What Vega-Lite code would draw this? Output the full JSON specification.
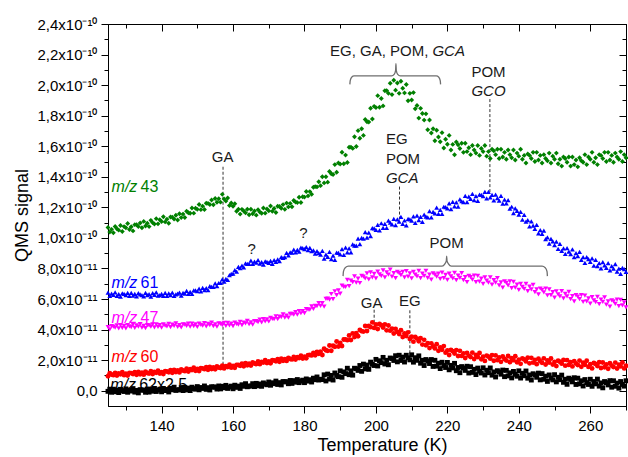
{
  "$schema": "https://vega.github.io/schema/vega-lite/v6.json",
  "width": 518,
  "height": 382,
  "autosize": {"type": "none"},
  "padding": {"left": 108, "top": 24, "right": 2, "bottom": 51},
  "background": "white",
  "config": {
    "view": {"stroke": "black", "strokeWidth": 1},
    "font": "Liberation Sans",
    "axis": {
      "labelFont": "Liberation Sans",
      "titleFont": "Liberation Sans",
      "labelColor": "black",
      "titleColor": "black",
      "domainColor": "black",
      "tickColor": "black",
      "tickWidth": 1,
      "domainWidth": 1,
      "grid": false,
      "labelFontSize": 15,
      "titleFontSize": 18,
      "titleFontWeight": "normal",
      "labelOverlap": false,
      "labelBound": false,
      "labelFlush": false
    }
  },
  "datasets": {
    "qms": [
      {"T":125,"m43":10.68,"m61":6.42,"m47":4.17,"m60":0.95,"m62":-0.04},
      {"T":125.5,"m43":10.38,"m61":6.2,"m47":4.02,"m60":1.14,"m62":0.1},
      {"T":126,"m43":10.56,"m61":6.35,"m47":4.23,"m60":1.06,"m62":-0.1},
      {"T":126.5,"m43":10.34,"m61":6.28,"m47":4.2,"m60":1.02,"m62":0.1},
      {"T":127,"m43":10.75,"m61":6.44,"m47":4.13,"m60":1.17,"m62":-0.07},
      {"T":127.5,"m43":10.6,"m61":6.21,"m47":4.28,"m60":0.99,"m62":0.04},
      {"T":128,"m43":10.51,"m61":6.32,"m47":4.08,"m60":1.13,"m62":-0.12},
      {"T":128.5,"m43":10.81,"m61":6.16,"m47":4.29,"m60":1.07,"m62":0.09},
      {"T":129,"m43":10.42,"m61":6.37,"m47":4.12,"m60":1.21,"m62":0},
      {"T":129.5,"m43":10.74,"m61":6.34,"m47":4.24,"m60":1.02,"m62":-0.05},
      {"T":130,"m43":10.67,"m61":6.26,"m47":4.08,"m60":1.12,"m62":0.12},
      {"T":130.5,"m43":10.94,"m61":6.4,"m47":4.29,"m60":0.99,"m62":-0.1},
      {"T":131,"m43":10.55,"m61":6.2,"m47":4.21,"m60":1.17,"m62":0.05},
      {"T":131.5,"m43":10.73,"m61":6.4,"m47":4.16,"m60":1.15,"m62":-0.02},
      {"T":132,"m43":10.46,"m61":6.23,"m47":4.33,"m60":1.09,"m62":0.14},
      {"T":132.5,"m43":10.87,"m61":6.34,"m47":4.11,"m60":1.22,"m62":-0.09},
      {"T":133,"m43":10.86,"m61":6.18,"m47":4.27,"m60":1.04,"m62":0.02},
      {"T":133.5,"m43":10.74,"m61":6.39,"m47":4.2,"m60":1.23,"m62":-0.14},
      {"T":134,"m43":10.98,"m61":6.3,"m47":4.36,"m60":1.08,"m62":0.07},
      {"T":134.5,"m43":10.67,"m61":6.25,"m47":4.13,"m60":1.18,"m62":0.04},
      {"T":135,"m43":11.08,"m61":6.18,"m47":4.25,"m60":1.05,"m62":0.04},
      {"T":135.5,"m43":10.78,"m61":6.4,"m47":4.09,"m60":1.24,"m62":-0.1},
      {"T":136,"m43":10.96,"m61":6.25,"m47":4.3,"m60":1.16,"m62":0.11},
      {"T":136.5,"m43":10.74,"m61":6.32,"m47":4.27,"m60":1.12,"m62":-0.09},
      {"T":137,"m43":11.15,"m61":6.16,"m47":4.2,"m60":1.27,"m62":0.09},
      {"T":137.5,"m43":11.0,"m61":6.39,"m47":4.34,"m60":1.09,"m62":-0.03},
      {"T":138,"m43":10.91,"m61":6.28,"m47":4.14,"m60":1.23,"m62":0.15},
      {"T":138.5,"m43":11.26,"m61":6.44,"m47":4.34,"m60":1.17,"m62":-0.05},
      {"T":139,"m43":10.92,"m61":6.23,"m47":4.18,"m60":1.31,"m62":0.04},
      {"T":139.5,"m43":11.19,"m61":6.26,"m47":4.29,"m60":1.12,"m62":0.1},
      {"T":140,"m43":11.07,"m61":6.34,"m47":4.13,"m60":1.22,"m62":-0.07},
      {"T":140.5,"m43":11.39,"m61":6.2,"m47":4.34,"m60":1.09,"m62":0.15},
      {"T":141,"m43":11.05,"m61":6.4,"m47":4.26,"m60":1.28,"m62":0.01},
      {"T":141.5,"m43":11.23,"m61":6.2,"m47":4.21,"m60":1.26,"m62":0.08},
      {"T":142,"m43":10.96,"m61":6.37,"m47":4.38,"m60":1.21,"m62":-0.08},
      {"T":142.5,"m43":11.37,"m61":6.26,"m47":4.16,"m60":1.34,"m62":0.15},
      {"T":143,"m43":11.36,"m61":6.42,"m47":4.32,"m60":1.17,"m62":0.06},
      {"T":143.5,"m43":11.24,"m61":6.21,"m47":4.25,"m60":1.36,"m62":0.23},
      {"T":144,"m43":11.48,"m61":6.3,"m47":4.41,"m60":1.22,"m62":0.02},
      {"T":144.5,"m43":11.17,"m61":6.35,"m47":4.18,"m60":1.32,"m62":0.06},
      {"T":145,"m43":11.58,"m61":6.42,"m47":4.3,"m60":1.2,"m62":0.06},
      {"T":145.5,"m43":11.33,"m61":6.23,"m47":4.14,"m60":1.39,"m62":0.21},
      {"T":146,"m43":11.56,"m61":6.4,"m47":4.35,"m60":1.32,"m62":0.01},
      {"T":146.5,"m43":11.34,"m61":6.36,"m47":4.32,"m60":1.28,"m62":0.22},
      {"T":147,"m43":11.75,"m61":6.54,"m47":4.25,"m60":1.44,"m62":0.05},
      {"T":147.5,"m43":11.65,"m61":6.34,"m47":4.39,"m60":1.26,"m62":0.17},
      {"T":148,"m43":11.61,"m61":6.47,"m47":4.19,"m60":1.41,"m62":0.01},
      {"T":148.5,"m43":11.96,"m61":6.34,"m47":4.39,"m60":1.35,"m62":0.23},
      {"T":149,"m43":11.62,"m61":6.57,"m47":4.23,"m60":1.5,"m62":0.14},
      {"T":149.5,"m43":11.94,"m61":6.57,"m47":4.34,"m60":1.31,"m62":0.1},
      {"T":150,"m43":11.87,"m61":6.51,"m47":4.18,"m60":1.42,"m62":0.27},
      {"T":150.5,"m43":12.19,"m61":6.68,"m47":4.39,"m60":1.29,"m62":0.06},
      {"T":151,"m43":11.85,"m61":6.5,"m47":4.31,"m60":1.48,"m62":0.21},
      {"T":151.5,"m43":12.08,"m61":6.73,"m47":4.26,"m60":1.46,"m62":0.15},
      {"T":152,"m43":11.86,"m61":6.58,"m47":4.43,"m60":1.41,"m62":0.31},
      {"T":152.5,"m43":12.27,"m61":6.72,"m47":4.21,"m60":1.54,"m62":0.09},
      {"T":153,"m43":12.26,"m61":6.58,"m47":4.37,"m60":1.37,"m62":0.2},
      {"T":153.5,"m43":12.19,"m61":6.84,"m47":4.3,"m60":1.56,"m62":0.05},
      {"T":154,"m43":12.48,"m61":6.8,"m47":4.46,"m60":1.42,"m62":0.26},
      {"T":154.5,"m43":12.17,"m61":6.8,"m47":4.23,"m60":1.52,"m62":0.24},
      {"T":155,"m43":12.58,"m61":7.02,"m47":4.35,"m60":1.4,"m62":0.24},
      {"T":155.5,"m43":12.33,"m61":6.85,"m47":4.19,"m60":1.59,"m62":0.11},
      {"T":156,"m43":12.56,"m61":7.05,"m47":4.4,"m60":1.52,"m62":0.31},
      {"T":156.5,"m43":12.34,"m61":7.06,"m47":4.37,"m60":1.48,"m62":0.12},
      {"T":157,"m43":12.85,"m61":7.29,"m47":4.3,"m60":1.64,"m62":0.29},
      {"T":157.5,"m43":12.55,"m61":7.14,"m47":4.44,"m60":1.46,"m62":0.19},
      {"T":158,"m43":12.41,"m61":7.32,"m47":4.24,"m60":1.61,"m62":0.35},
      {"T":158.5,"m43":12.61,"m61":7.26,"m47":4.44,"m60":1.55,"m62":0.15},
      {"T":159,"m43":12.12,"m61":7.57,"m47":4.28,"m60":1.7,"m62":0.24},
      {"T":159.5,"m43":12.29,"m61":7.64,"m47":4.39,"m60":1.51,"m62":0.3},
      {"T":160,"m43":12.07,"m61":7.66,"m47":4.23,"m60":1.62,"m62":0.13},
      {"T":160.5,"m43":12.24,"m61":7.9,"m47":4.45,"m60":1.5,"m62":0.36},
      {"T":161,"m43":11.75,"m61":7.8,"m47":4.37,"m60":1.69,"m62":0.22},
      {"T":161.5,"m43":11.88,"m61":8.1,"m47":4.33,"m60":1.68,"m62":0.3},
      {"T":162,"m43":11.56,"m61":8.03,"m47":4.51,"m60":1.63,"m62":0.15},
      {"T":162.5,"m43":11.87,"m61":8.19,"m47":4.3,"m60":1.77,"m62":0.39},
      {"T":163,"m43":11.76,"m61":8.08,"m47":4.46,"m60":1.6,"m62":0.29},
      {"T":163.5,"m43":11.64,"m61":8.34,"m47":4.4,"m60":1.8,"m62":0.46},
      {"T":164,"m43":11.88,"m61":8.3,"m47":4.57,"m60":1.66,"m62":0.26},
      {"T":164.5,"m43":11.52,"m61":8.3,"m47":4.35,"m60":1.77,"m62":0.3},
      {"T":165,"m43":11.88,"m61":8.52,"m47":4.47,"m60":1.65,"m62":0.31},
      {"T":165.5,"m43":11.58,"m61":8.3,"m47":4.33,"m60":1.85,"m62":0.46},
      {"T":166,"m43":11.76,"m61":8.45,"m47":4.56,"m60":1.78,"m62":0.27},
      {"T":166.5,"m43":11.49,"m61":8.38,"m47":4.55,"m60":1.75,"m62":0.48},
      {"T":167,"m43":11.85,"m61":8.54,"m47":4.49,"m60":1.91,"m62":0.32},
      {"T":167.5,"m43":11.7,"m61":8.31,"m47":4.65,"m60":1.74,"m62":0.44},
      {"T":168,"m43":11.61,"m61":8.42,"m47":4.47,"m60":1.89,"m62":0.29},
      {"T":168.5,"m43":11.96,"m61":8.26,"m47":4.69,"m60":1.84,"m62":0.51},
      {"T":169,"m43":11.62,"m61":8.47,"m47":4.54,"m60":1.99,"m62":0.43},
      {"T":169.5,"m43":11.89,"m61":8.44,"m47":4.67,"m60":1.81,"m62":0.39},
      {"T":170,"m43":11.77,"m61":8.36,"m47":4.53,"m60":1.92,"m62":0.57},
      {"T":170.5,"m43":12.09,"m61":8.5,"m47":4.77,"m60":1.8,"m62":0.36},
      {"T":171,"m43":11.75,"m61":8.3,"m47":4.7,"m60":1.99,"m62":0.52},
      {"T":171.5,"m43":11.93,"m61":8.55,"m47":4.68,"m60":1.98,"m62":0.46},
      {"T":172,"m43":11.66,"m61":8.43,"m47":4.87,"m60":1.93,"m62":0.63},
      {"T":172.5,"m43":12.07,"m61":8.59,"m47":4.68,"m60":2.07,"m62":0.41},
      {"T":173,"m43":12.06,"m61":8.48,"m47":4.85,"m60":1.9,"m62":0.53},
      {"T":173.5,"m43":11.94,"m61":8.74,"m47":4.81,"m60":2.1,"m62":0.38},
      {"T":174,"m43":12.18,"m61":8.7,"m47":4.99,"m60":1.96,"m62":0.6},
      {"T":174.5,"m43":11.87,"m61":8.75,"m47":4.79,"m60":2.07,"m62":0.58},
      {"T":175,"m43":12.28,"m61":9.02,"m47":4.92,"m60":1.95,"m62":0.59},
      {"T":175.5,"m43":12.03,"m61":8.85,"m47":4.79,"m60":2.15,"m62":0.46},
      {"T":176,"m43":12.26,"m61":9.05,"m47":5.03,"m60":2.08,"m62":0.67},
      {"T":176.5,"m43":12.04,"m61":9.03,"m47":5.03,"m60":2.05,"m62":0.48},
      {"T":177,"m43":12.45,"m61":9.24,"m47":4.98,"m60":2.21,"m62":0.66},
      {"T":177.5,"m43":12.35,"m61":9.06,"m47":5.15,"m60":2.04,"m62":0.56},
      {"T":178,"m43":12.31,"m61":9.22,"m47":4.98,"m60":2.19,"m62":0.73},
      {"T":178.5,"m43":12.66,"m61":9.11,"m47":5.21,"m60":2.14,"m62":0.53},
      {"T":179,"m43":12.32,"m61":9.37,"m47":5.07,"m60":2.29,"m62":0.63},
      {"T":179.5,"m43":12.69,"m61":9.34,"m47":5.21,"m60":2.11,"m62":0.69},
      {"T":180,"m43":12.67,"m61":9.26,"m47":5.08,"m60":2.22,"m62":0.53},
      {"T":180.5,"m43":13.04,"m61":9.4,"m47":5.34,"m60":2.12,"m62":0.77},
      {"T":181,"m43":12.75,"m61":9.2,"m47":5.3,"m60":2.33,"m62":0.63},
      {"T":181.5,"m43":13.03,"m61":9.35,"m47":5.3,"m60":2.34,"m62":0.72},
      {"T":182,"m43":12.86,"m61":9.13,"m47":5.52,"m60":2.31,"m62":0.57},
      {"T":182.5,"m43":13.32,"m61":9.19,"m47":5.35,"m60":2.47,"m62":0.82},
      {"T":183,"m43":13.36,"m61":8.98,"m47":5.55,"m60":2.32,"m62":0.72},
      {"T":183.5,"m43":13.34,"m61":9.14,"m47":5.53,"m60":2.54,"m62":0.9},
      {"T":184,"m43":13.68,"m61":9.0,"m47":5.74,"m60":2.42,"m62":0.7},
      {"T":184.5,"m43":13.42,"m61":8.9,"m47":5.56,"m60":2.55,"m62":0.75},
      {"T":185,"m43":14.0,"m61":9.15,"m47":5.74,"m60":2.34,"m62":0.73},
      {"T":185.5,"m43":13.6,"m61":8.64,"m47":5.5,"m60":2.75,"m62":1.04},
      {"T":186,"m43":14.0,"m61":8.91,"m47":6.01,"m60":2.65,"m62":0.64},
      {"T":186.5,"m43":13.65,"m61":8.76,"m47":6.02,"m60":2.61,"m62":1.09},
      {"T":187,"m43":14.35,"m61":9.08,"m47":5.96,"m60":2.96,"m62":0.76},
      {"T":187.5,"m43":14.2,"m61":8.62,"m47":6.33,"m60":2.62,"m62":1.0},
      {"T":188,"m43":14.15,"m61":8.84,"m47":5.99,"m60":2.94,"m62":0.7},
      {"T":188.5,"m43":14.8,"m61":8.57,"m47":6.51,"m60":2.88,"m62":1.16},
      {"T":189,"m43":14.3,"m61":9.04,"m47":6.26,"m60":3.22,"m62":1.0},
      {"T":189.5,"m43":14.9,"m61":9.02,"m47":6.57,"m60":2.89,"m62":0.92},
      {"T":190,"m43":14.83,"m61":8.93,"m47":6.35,"m60":3.13,"m62":1.3},
      {"T":190.5,"m43":15.61,"m61":9.26,"m47":6.88,"m60":2.93,"m62":0.88},
      {"T":191,"m43":14.85,"m61":8.89,"m47":6.8,"m60":3.35,"m62":1.23},
      {"T":191.5,"m43":15.42,"m61":9.36,"m47":6.79,"m60":3.36,"m62":1.12},
      {"T":192,"m43":14.94,"m61":9.06,"m47":7.25,"m60":3.31,"m62":1.47},
      {"T":192.5,"m43":15.93,"m61":9.32,"m47":6.84,"m60":3.61,"m62":1.05},
      {"T":193,"m43":15.94,"m61":9.05,"m47":7.21,"m60":3.32,"m62":1.3},
      {"T":193.5,"m43":15.86,"m61":9.58,"m47":7.11,"m60":3.75,"m62":1.02},
      {"T":194,"m43":16.62,"m61":9.5,"m47":7.48,"m60":3.51,"m62":1.47},
      {"T":194.5,"m43":15.98,"m61":9.49,"m47":7.07,"m60":3.76,"m62":1.44},
      {"T":195,"m43":17.02,"m61":9.95,"m47":7.34,"m60":3.56,"m62":1.33},
      {"T":195.5,"m43":16.52,"m61":9.59,"m47":7.05,"m60":3.98,"m62":1.65},
      {"T":196,"m43":17.14,"m61":10.01,"m47":7.51,"m60":3.9,"m62":1.27},
      {"T":196.5,"m43":16.71,"m61":9.96,"m47":7.47,"m60":3.87,"m62":1.74},
      {"T":197,"m43":17.75,"m61":10.38,"m47":7.36,"m60":4.24,"m62":1.43},
      {"T":197.5,"m43":17.6,"m61":10.02,"m47":7.68,"m60":3.91,"m62":1.68},
      {"T":198,"m43":17.59,"m61":10.34,"m47":7.29,"m60":4.24,"m62":1.4},
      {"T":198.5,"m43":18.49,"m61":10.12,"m47":7.74,"m60":4.16,"m62":1.87},
      {"T":199,"m43":17.78,"m61":10.64,"m47":7.41,"m60":4.47,"m62":1.73},
      {"T":199.5,"m43":18.61,"m61":10.62,"m47":7.65,"m60":4.11,"m62":1.65},
      {"T":200,"m43":18.53,"m61":10.53,"m47":7.35,"m60":4.33,"m62":2.05},
      {"T":200.5,"m43":19.31,"m61":10.86,"m47":7.79,"m60":4.04,"m62":1.62},
      {"T":201,"m43":18.55,"m61":10.49,"m47":7.62,"m60":4.37,"m62":1.96},
      {"T":201.5,"m43":19.12,"m61":10.96,"m47":7.51,"m60":4.29,"m62":1.84},
      {"T":202,"m43":18.64,"m61":10.66,"m47":7.87,"m60":4.14,"m62":2.18},
      {"T":202.5,"m43":19.63,"m61":10.92,"m47":7.41,"m60":4.34,"m62":1.75},
      {"T":203,"m43":19.64,"m61":10.65,"m47":7.75,"m60":3.95,"m62":1.99},
      {"T":203.5,"m43":19.46,"m61":11.13,"m47":7.6,"m60":4.27,"m62":1.7},
      {"T":204,"m43":20.12,"m61":11.0,"m47":7.92,"m60":3.93,"m62":2.14},
      {"T":204.5,"m43":19.38,"m61":10.89,"m47":7.47,"m60":4.06,"m62":2.1},
      {"T":205,"m43":20.32,"m61":11.25,"m47":7.69,"m60":3.74,"m62":1.98},
      {"T":205.5,"m43":19.67,"m61":10.84,"m47":7.37,"m60":4.05,"m62":2.29},
      {"T":206,"m43":20.14,"m61":11.21,"m47":7.78,"m60":3.85,"m62":1.89},
      {"T":206.5,"m43":19.46,"m61":11.06,"m47":7.7,"m60":3.71,"m62":2.32},
      {"T":207,"m43":20.25,"m61":11.38,"m47":7.56,"m60":3.96,"m62":1.98},
      {"T":207.5,"m43":19.8,"m61":10.92,"m47":7.77,"m60":3.52,"m62":2.2},
      {"T":208,"m43":19.49,"m61":11.14,"m47":7.42,"m60":3.74,"m62":1.88},
      {"T":208.5,"m43":20.04,"m61":10.82,"m47":7.83,"m60":3.58,"m62":2.32},
      {"T":209,"m43":18.98,"m61":11.24,"m47":7.47,"m60":3.82,"m62":2.15},
      {"T":209.5,"m43":19.46,"m61":11.22,"m47":7.68,"m60":3.39,"m62":2.02},
      {"T":210,"m43":19.03,"m61":11.13,"m47":7.35,"m60":3.53,"m62":2.35},
      {"T":210.5,"m43":19.51,"m61":11.41,"m47":7.78,"m60":3.21,"m62":1.87},
      {"T":211,"m43":18.45,"m61":10.99,"m47":7.59,"m60":3.52,"m62":2.16},
      {"T":211.5,"m43":18.67,"m61":11.46,"m47":7.48,"m60":3.41,"m62":1.99},
      {"T":212,"m43":17.84,"m61":11.16,"m47":7.84,"m60":3.24,"m62":2.28},
      {"T":212.5,"m43":18.48,"m61":11.37,"m47":7.37,"m60":3.43,"m62":1.8},
      {"T":213,"m43":18.14,"m61":11.05,"m47":7.67,"m60":3.02,"m62":1.99},
      {"T":213.5,"m43":17.71,"m61":11.53,"m47":7.52,"m60":3.33,"m62":1.65},
      {"T":214,"m43":18.12,"m61":11.4,"m47":7.84,"m60":2.98,"m62":2.04},
      {"T":214.5,"m43":17.08,"m61":11.34,"m47":7.38,"m60":3.11,"m62":1.95},
      {"T":215,"m43":17.72,"m61":11.75,"m47":7.59,"m60":2.79,"m62":1.78},
      {"T":215.5,"m43":16.87,"m61":11.34,"m47":7.27,"m60":3.1,"m62":2.04},
      {"T":216,"m43":17.14,"m61":11.71,"m47":7.68,"m60":2.9,"m62":1.59},
      {"T":216.5,"m43":16.36,"m61":11.61,"m47":7.6,"m60":2.77,"m62":1.99},
      {"T":217,"m43":17.05,"m61":11.98,"m47":7.46,"m60":3.04,"m62":1.61},
      {"T":217.5,"m43":16.6,"m61":11.57,"m47":7.67,"m60":2.61,"m62":1.8},
      {"T":218,"m43":16.29,"m61":11.84,"m47":7.32,"m60":2.84,"m62":1.45},
      {"T":218.5,"m43":16.89,"m61":11.57,"m47":7.73,"m60":2.68,"m62":1.86},
      {"T":219,"m43":15.88,"m61":12.04,"m47":7.37,"m60":2.92,"m62":1.65},
      {"T":219.5,"m43":16.46,"m61":12.02,"m47":7.58,"m60":2.49,"m62":1.52},
      {"T":220,"m43":16.13,"m61":11.93,"m47":7.25,"m60":2.63,"m62":1.85},
      {"T":220.5,"m43":16.71,"m61":12.26,"m47":7.67,"m60":2.34,"m62":1.37},
      {"T":221,"m43":15.75,"m61":11.89,"m47":7.48,"m60":2.67,"m62":1.66},
      {"T":221.5,"m43":16.12,"m61":12.36,"m47":7.36,"m60":2.59,"m62":1.49},
      {"T":222,"m43":15.44,"m61":12.06,"m47":7.71,"m60":2.44,"m62":1.79},
      {"T":222.5,"m43":16.28,"m61":12.32,"m47":7.24,"m60":2.66,"m62":1.31},
      {"T":223,"m43":16.1,"m61":12.05,"m47":7.53,"m60":2.27,"m62":1.52},
      {"T":223.5,"m43":15.85,"m61":12.53,"m47":7.38,"m60":2.61,"m62":1.18},
      {"T":224,"m43":16.2,"m61":12.4,"m47":7.69,"m60":2.28,"m62":1.58},
      {"T":224.5,"m43":15.6,"m61":12.34,"m47":7.23,"m60":2.44,"m62":1.49},
      {"T":225,"m43":16.2,"m61":12.75,"m47":7.44,"m60":2.14,"m62":1.33},
      {"T":225.5,"m43":15.65,"m61":12.34,"m47":7.11,"m60":2.48,"m62":1.6},
      {"T":226,"m43":15.9,"m61":12.71,"m47":7.51,"m60":2.3,"m62":1.16},
      {"T":226.5,"m43":15.45,"m61":12.56,"m47":7.43,"m60":2.2,"m62":1.57},
      {"T":227,"m43":16.05,"m61":12.88,"m47":7.27,"m60":2.49,"m62":1.2},
      {"T":227.5,"m43":15.75,"m61":12.47,"m47":7.54,"m60":2.08,"m62":1.4},
      {"T":228,"m43":15.55,"m61":12.74,"m47":7.1,"m60":2.34,"m62":1.06},
      {"T":228.5,"m43":16.05,"m61":12.42,"m47":7.51,"m60":2.21,"m62":1.48},
      {"T":229,"m43":15.4,"m61":12.84,"m47":7.14,"m60":2.47,"m62":1.28},
      {"T":229.5,"m43":15.85,"m61":12.82,"m47":7.34,"m60":2.06,"m62":1.16},
      {"T":230,"m43":15.65,"m61":12.73,"m47":7.0,"m60":2.23,"m62":1.5},
      {"T":230.5,"m43":16.05,"m61":13.01,"m47":7.41,"m60":1.95,"m62":1.03},
      {"T":231,"m43":15.35,"m61":12.59,"m47":7.21,"m60":2.3,"m62":1.34},
      {"T":231.5,"m43":15.65,"m61":13.01,"m47":7.08,"m60":2.23,"m62":1.18},
      {"T":232,"m43":15.2,"m61":12.66,"m47":7.42,"m60":2.1,"m62":1.49},
      {"T":232.5,"m43":15.8,"m61":12.82,"m47":6.94,"m60":2.33,"m62":1.02},
      {"T":233,"m43":15.7,"m61":12.45,"m47":7.24,"m60":1.96,"m62":1.23},
      {"T":233.5,"m43":15.45,"m61":12.83,"m47":7.07,"m60":2.31,"m62":0.9},
      {"T":234,"m43":15.8,"m61":12.6,"m47":7.37,"m60":2.0,"m62":1.31},
      {"T":234.5,"m43":15.2,"m61":12.44,"m47":6.89,"m60":2.17,"m62":1.23},
      {"T":235,"m43":15.8,"m61":12.75,"m47":7.09,"m60":1.89,"m62":1.08},
      {"T":235.5,"m43":15.3,"m61":12.24,"m47":6.75,"m60":2.24,"m62":1.35},
      {"T":236,"m43":15.6,"m61":12.51,"m47":7.15,"m60":2.08,"m62":0.92},
      {"T":236.5,"m43":15.15,"m61":12.26,"m47":7.06,"m60":1.98,"m62":1.33},
      {"T":237,"m43":15.75,"m61":12.48,"m47":6.9,"m60":2.27,"m62":0.97},
      {"T":237.5,"m43":15.45,"m61":11.92,"m47":7.16,"m60":1.87,"m62":1.17},
      {"T":238,"m43":15.25,"m61":12.04,"m47":6.72,"m60":2.13,"m62":0.84},
      {"T":238.5,"m43":15.75,"m61":11.62,"m47":7.12,"m60":2.0,"m62":1.26},
      {"T":239,"m43":15.1,"m61":11.94,"m47":6.75,"m60":2.26,"m62":1.07},
      {"T":239.5,"m43":15.55,"m61":11.77,"m47":6.94,"m60":1.86,"m62":0.95},
      {"T":240,"m43":15.35,"m61":11.53,"m47":6.6,"m60":2.03,"m62":1.3},
      {"T":240.5,"m43":15.8,"m61":11.71,"m47":7.0,"m60":1.76,"m62":0.83},
      {"T":241,"m43":15.15,"m61":11.19,"m47":6.8,"m60":2.11,"m62":1.14},
      {"T":241.5,"m43":15.4,"m61":11.51,"m47":6.67,"m60":2.05,"m62":0.98},
      {"T":242,"m43":14.9,"m61":11.06,"m47":7.0,"m60":1.92,"m62":1.29},
      {"T":242.5,"m43":15.5,"m61":11.17,"m47":6.52,"m60":2.16,"m62":0.82},
      {"T":243,"m43":15.4,"m61":10.75,"m47":6.81,"m60":1.79,"m62":1.03},
      {"T":243.5,"m43":15.2,"m61":11.08,"m47":6.64,"m60":2.15,"m62":0.7},
      {"T":244,"m43":15.6,"m61":10.8,"m47":6.93,"m60":1.84,"m62":1.11},
      {"T":244.5,"m43":15.0,"m61":10.59,"m47":6.45,"m60":2.02,"m62":1.03},
      {"T":245,"m43":15.6,"m61":10.85,"m47":6.64,"m60":1.74,"m62":0.88},
      {"T":245.5,"m43":15.1,"m61":10.29,"m47":6.3,"m60":2.09,"m62":1.15},
      {"T":246,"m43":15.4,"m61":10.51,"m47":6.69,"m60":1.93,"m62":0.71},
      {"T":246.5,"m43":14.9,"m61":10.26,"m47":6.6,"m60":1.83,"m62":1.12},
      {"T":247,"m43":15.45,"m61":10.48,"m47":6.43,"m60":2.12,"m62":0.75},
      {"T":247.5,"m43":15.2,"m61":9.92,"m47":6.69,"m60":1.72,"m62":0.95},
      {"T":248,"m43":15.05,"m61":10.04,"m47":6.24,"m60":1.98,"m62":0.61},
      {"T":248.5,"m43":15.55,"m61":9.62,"m47":6.64,"m60":1.85,"m62":1.03},
      {"T":249,"m43":14.9,"m61":9.94,"m47":6.26,"m60":2.11,"m62":0.83},
      {"T":249.5,"m43":15.35,"m61":9.77,"m47":6.45,"m60":1.71,"m62":0.71},
      {"T":250,"m43":15.15,"m61":9.53,"m47":6.1,"m60":1.88,"m62":1.05},
      {"T":250.5,"m43":15.55,"m61":9.76,"m47":6.51,"m60":1.61,"m62":0.58},
      {"T":251,"m43":14.85,"m61":9.29,"m47":6.31,"m60":1.96,"m62":0.88},
      {"T":251.5,"m43":15.15,"m61":9.61,"m47":6.18,"m60":1.9,"m62":0.72},
      {"T":252,"m43":14.7,"m61":9.16,"m47":6.52,"m60":1.77,"m62":1.02},
      {"T":252.5,"m43":15.3,"m61":9.32,"m47":6.04,"m60":2.01,"m62":0.55},
      {"T":253,"m43":15.2,"m61":8.95,"m47":6.34,"m60":1.64,"m62":0.75},
      {"T":253.5,"m43":14.95,"m61":9.33,"m47":6.17,"m60":2.0,"m62":0.42},
      {"T":254,"m43":15.3,"m61":9.1,"m47":6.47,"m60":1.69,"m62":0.82},
      {"T":254.5,"m43":14.7,"m61":8.94,"m47":5.99,"m60":1.87,"m62":0.74},
      {"T":255,"m43":15.3,"m61":9.25,"m47":6.19,"m60":1.59,"m62":0.58},
      {"T":255.5,"m43":14.8,"m61":8.74,"m47":5.85,"m60":1.94,"m62":0.85},
      {"T":256,"m43":15.1,"m61":9.01,"m47":6.25,"m60":1.78,"m62":0.41},
      {"T":256.5,"m43":14.65,"m61":8.81,"m47":6.16,"m60":1.68,"m62":0.82},
      {"T":257,"m43":15.25,"m61":9.08,"m47":6.0,"m60":1.97,"m62":0.45},
      {"T":257.5,"m43":15.05,"m61":8.57,"m47":6.26,"m60":1.57,"m62":0.65},
      {"T":258,"m43":14.95,"m61":8.74,"m47":5.82,"m60":1.83,"m62":0.31},
      {"T":258.5,"m43":15.45,"m61":8.37,"m47":6.22,"m60":1.7,"m62":0.73},
      {"T":259,"m43":14.8,"m61":8.74,"m47":5.85,"m60":1.96,"m62":0.53},
      {"T":259.5,"m43":15.3,"m61":8.62,"m47":6.04,"m60":1.56,"m62":0.41},
      {"T":260,"m43":15.15,"m61":8.43,"m47":5.7,"m60":1.73,"m62":0.75},
      {"T":260.5,"m43":15.6,"m61":8.66,"m47":6.12,"m60":1.46,"m62":0.29},
      {"T":261,"m43":14.95,"m61":8.19,"m47":5.92,"m60":1.81,"m62":0.6},
      {"T":261.5,"m43":15.25,"m61":8.56,"m47":5.8,"m60":1.75,"m62":0.45},
      {"T":262,"m43":14.8,"m61":8.16,"m47":6.14,"m60":1.62,"m62":0.76},
      {"T":262.5,"m43":15.45,"m61":8.35,"m47":5.67,"m60":1.86,"m62":0.3},
      {"T":263,"m43":15.4,"m61":8.0,"m47":5.97,"m60":1.49,"m62":0.51},
      {"T":263.5,"m43":15.2,"m61":8.41,"m47":5.81,"m60":1.85,"m62":0.19},
      {"T":264,"m43":15.6,"m61":8.2,"m47":6.11,"m60":1.54,"m62":0.6},
      {"T":264.5,"m43":15.0,"m61":8.04,"m47":5.64,"m60":1.72,"m62":0.53},
      {"T":265,"m43":15.6,"m61":8.35,"m47":5.84,"m60":1.44,"m62":0.38},
      {"T":265.5,"m43":15.1,"m61":7.87,"m47":5.51,"m60":1.8,"m62":0.66},
      {"T":266,"m43":15.4,"m61":8.16,"m47":5.92,"m60":1.64,"m62":0.23},
      {"T":266.5,"m43":14.95,"m61":7.99,"m47":5.84,"m60":1.55,"m62":0.65},
      {"T":267,"m43":15.55,"m61":8.28,"m47":5.69,"m60":1.84,"m62":0.29},
      {"T":267.5,"m43":15.3,"m61":7.8,"m47":5.96,"m60":1.45,"m62":0.5},
      {"T":268,"m43":15.15,"m61":7.99,"m47":5.53,"m60":1.71,"m62":0.17},
      {"T":268.5,"m43":15.65,"m61":7.65,"m47":5.94,"m60":1.59,"m62":0.6},
      {"T":269,"m43":15.0,"m61":8.04,"m47":5.58,"m60":1.85,"m62":0.41},
      {"T":269.5,"m43":15.45,"m61":7.95,"m47":5.78,"m60":1.46,"m62":0.3},
      {"T":270,"m43":15.25,"m61":7.78,"m47":5.45,"m60":1.63,"m62":0.65}
    ],
    "tags": [
      {"series":"m43","T":126,"v":13.3,"num":"43"},
      {"series":"m61","T":126,"v":7.05,"num":"61"},
      {"series":"m47","T":126,"v":4.75,"num":"47"},
      {"series":"m60","T":126,"v":2.2,"num":"60"},
      {"series":"m62","T":125.6,"v":0.4,"num":"62x2.5"}
    ],
    "guides": [
      {"T":157.2,"v":1.7,"v2":14.7},
      {"T":206.6,"v":11.2,"v2":13.4},
      {"T":231.9,"v":13.0,"v2":19.2},
      {"T":199.5,"v":4.45,"v2":5.3},
      {"T":209.5,"v":2.45,"v2":5.3}
    ],
    "braces": [
      {"grp":"top","T":192.7,"v":20.05},
      {"grp":"top","T":192.8,"v":20.3},
      {"grp":"top","T":193.2,"v":20.52},
      {"grp":"top","T":193.9,"v":20.6},
      {"grp":"top","T":204.4,"v":20.6},
      {"grp":"top","T":205.1,"v":20.7},
      {"grp":"top","T":205.5,"v":20.95},
      {"grp":"top","T":205.6,"v":21.4},
      {"grp":"top","T":205.7,"v":20.95},
      {"grp":"top","T":206.1,"v":20.7},
      {"grp":"top","T":206.8,"v":20.6},
      {"grp":"top","T":216.9,"v":20.6},
      {"grp":"top","T":217.6,"v":20.52},
      {"grp":"top","T":218.0,"v":20.3},
      {"grp":"top","T":218.1,"v":20.05},
      {"grp":"mid","T":190.8,"v":7.5},
      {"grp":"mid","T":190.9,"v":7.8},
      {"grp":"mid","T":191.4,"v":8.05},
      {"grp":"mid","T":192.3,"v":8.15},
      {"grp":"mid","T":218.5,"v":8.15},
      {"grp":"mid","T":219.3,"v":8.3},
      {"grp":"mid","T":219.7,"v":8.5},
      {"grp":"mid","T":219.8,"v":8.8},
      {"grp":"mid","T":219.9,"v":8.5},
      {"grp":"mid","T":220.3,"v":8.3},
      {"grp":"mid","T":221.1,"v":8.15},
      {"grp":"mid","T":246.5,"v":8.15},
      {"grp":"mid","T":247.4,"v":8.05},
      {"grp":"mid","T":247.9,"v":7.8},
      {"grp":"mid","T":248.0,"v":7.5}
    ]
  },
  "resolve": {"axis": {"x": "independent", "y": "independent"}},
  "layer": [
    {
      "data": {"name": "guides"},
      "mark": {"type": "rule", "color": "#333333", "strokeWidth": 1, "strokeDash": [3, 2]},
      "encoding": {
        "x": {
          "field": "T", "type": "quantitative",
          "scale": {"domain": [125, 270], "nice": false, "zero": false},
          "axis": {
            "orient": "top", "title": null, "labels": false, "domain": true,
            "values": [130, 140, 150, 160, 170, 180, 190, 200, 210, 220, 230, 240, 250, 260, 270],
            "tickSize": {"condition": {"test": "datum.value % 20 == 0", "value": -7}, "value": -4}
          }
        },
        "y": {
          "field": "v", "type": "quantitative",
          "scale": {"domain": [-1, 24], "nice": false, "zero": false},
          "axis": {
            "orient": "right", "title": null, "labels": false, "domain": true,
            "values": [0, 1, 2, 3, 4, 5, 6, 7, 8, 9, 10, 11, 12, 13, 14, 15, 16, 17, 18, 19, 20, 21, 22, 23, 24],
            "tickSize": {"condition": {"test": "datum.value % 2 == 0", "value": -7}, "value": -4}
          }
        },
        "y2": {"field": "v2"}
      }
    },
    {
      "data": {"name": "braces"},
      "mark": {"type": "line", "color": "#6e6e6e", "strokeWidth": 1.3, "interpolate": "monotone"},
      "encoding": {
        "x": {"field": "T", "type": "quantitative", "axis": null},
        "y": {"field": "v", "type": "quantitative", "axis": null},
        "detail": {"field": "grp"}
      }
    },
    {
      "data": {"name": "qms"},
      "transform": [{"fold": ["m62", "m60", "m47", "m61", "m43"], "as": ["series", "v"]}],
      "mark": {"type": "point", "filled": true, "size": 24, "opacity": 1, "strokeWidth": 0},
      "encoding": {
        "x": {
          "field": "T", "type": "quantitative",
          "scale": {"domain": [125, 270], "nice": false, "zero": false},
          "axis": {
            "orient": "bottom", "title": "Temperature (K)",
            "values": [130, 140, 150, 160, 170, 180, 190, 200, 210, 220, 230, 240, 250, 260, 270],
            "labelExpr": "datum.value % 20 == 0 ? datum.label : ''",
            "tickSize": {"condition": {"test": "datum.value % 20 == 0", "value": 7}, "value": 4},
            "labelPadding": 5,
            "titleX": 274, "titleY": 39, "titleBaseline": "middle", "titleAlign": "center"
          }
        },
        "y": {
          "field": "v", "type": "quantitative",
          "scale": {"domain": [-1, 24], "nice": false, "zero": false},
          "axis": {
            "orient": "left", "title": "QMS signal",
            "values": [0, 1, 2, 3, 4, 5, 6, 7, 8, 9, 10, 11, 12, 13, 14, 15, 16, 17, 18, 19, 20, 21, 22, 23, 24],
            "labelExpr": "datum.value == 0 ? '0,0' : datum.value % 2 != 0 ? '' : datum.value >= 10 ? replace(format(datum.value / 10, '.1f'), '.', ',') + 'x10⁻¹⁰' : replace(format(datum.value, '.1f'), '.', ',') + 'x10⁻¹¹'",
            "tickSize": {"condition": {"test": "datum.value % 2 == 0", "value": 7}, "value": 4},
            "labelPadding": 4,
            "titleX": -86, "titleY": 191, "titleAngle": 270, "titleBaseline": "middle", "titleAlign": "center"
          }
        },
        "color": {
          "field": "series", "type": "nominal",
          "scale": {"domain": ["m43", "m61", "m47", "m60", "m62"], "range": ["#008000", "#0000ff", "#ff00ff", "#ff0000", "#000000"]},
          "legend": null
        },
        "shape": {
          "field": "series", "type": "nominal",
          "scale": {"domain": ["m43", "m61", "m47", "m60", "m62"], "range": ["diamond", "triangle-up", "triangle-down", "circle", "square"]},
          "legend": null
        }
      }
    },
    {
      "data": {"name": "tags"},
      "mark": {"type": "text", "text": "m/z", "align": "left", "baseline": "middle", "fontSize": 16, "fontStyle": "italic"},
      "encoding": {
        "x": {"field": "T", "type": "quantitative", "axis": null},
        "y": {"field": "v", "type": "quantitative", "axis": null},
        "color": {"field": "series", "type": "nominal", "legend": null}
      }
    },
    {
      "data": {"name": "tags"},
      "mark": {"type": "text", "align": "left", "baseline": "middle", "fontSize": 16, "dx": 29},
      "encoding": {
        "x": {"field": "T", "type": "quantitative", "axis": null},
        "y": {"field": "v", "type": "quantitative", "axis": null},
        "text": {"field": "num"},
        "color": {"field": "series", "type": "nominal", "legend": null}
      }
    },
    {
      "data": {"values": [
        {"T":157.1,"v":15.3,"label":"GA"},
        {"T":165.2,"v":9.25,"label":"?"},
        {"T":179.7,"v":10.35,"label":"?"},
        {"T":219.8,"v":9.65,"label":"POM"},
        {"T":198.8,"v":5.75,"label":"GA"},
        {"T":209.5,"v":5.85,"label":"EG"},
        {"T":231.5,"v":20.85,"label":"POM"}
      ]},
      "mark": {"type": "text", "align": "center", "baseline": "middle", "fontSize": 15, "color": "#1a1a1a"},
      "encoding": {
        "x": {"field": "T", "type": "quantitative", "axis": null},
        "y": {"field": "v", "type": "quantitative", "axis": null},
        "text": {"field": "label"}
      }
    },
    {
      "data": {"values": [
        {"T":231.5,"v":19.6,"label":"GCO"}
      ]},
      "mark": {"type": "text", "align": "center", "baseline": "middle", "fontSize": 15, "fontStyle": "italic", "color": "#1a1a1a"},
      "encoding": {
        "x": {"field": "T", "type": "quantitative", "axis": null},
        "y": {"field": "v", "type": "quantitative", "axis": null},
        "text": {"field": "label"}
      }
    },
    {
      "data": {"values": [
        {"T":202.8,"v":16.45,"label":"EG"},
        {"T":202.8,"v":15.15,"label":"POM"}
      ]},
      "mark": {"type": "text", "align": "left", "baseline": "middle", "fontSize": 15, "color": "#1a1a1a"},
      "encoding": {
        "x": {"field": "T", "type": "quantitative", "axis": null},
        "y": {"field": "v", "type": "quantitative", "axis": null},
        "text": {"field": "label"}
      }
    },
    {
      "data": {"values": [
        {"T":202.8,"v":13.95,"label":"GCA"},
        {"T":215.8,"v":22.25,"label":"GCA"}
      ]},
      "mark": {"type": "text", "align": "left", "baseline": "middle", "fontSize": 15, "fontStyle": "italic", "color": "#1a1a1a"},
      "encoding": {
        "x": {"field": "T", "type": "quantitative", "axis": null},
        "y": {"field": "v", "type": "quantitative", "axis": null},
        "text": {"field": "label"}
      }
    },
    {
      "data": {"values": [
        {"T":215.8,"v":22.25,"label":"EG, GA, POM,"}
      ]},
      "mark": {"type": "text", "align": "right", "baseline": "middle", "fontSize": 15, "dx": -4, "color": "#1a1a1a"},
      "encoding": {
        "x": {"field": "T", "type": "quantitative", "axis": null},
        "y": {"field": "v", "type": "quantitative", "axis": null},
        "text": {"field": "label"}
      }
    }
  ]
}
